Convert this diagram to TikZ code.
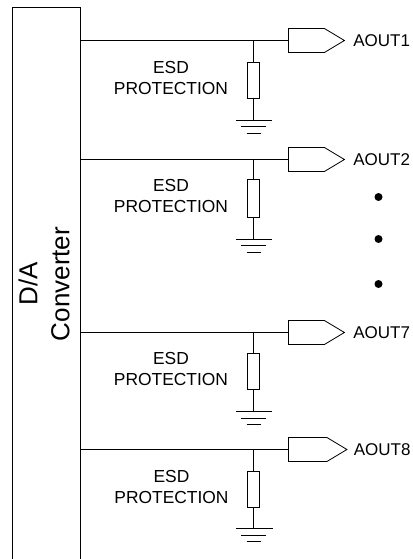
\documentclass[tikz,border=0pt]{standalone}
\usepackage{fontspec}
\setmainfont{Liberation Sans}
\usetikzlibrary{shapes.symbols}
\begin{document}
\begin{tikzpicture}[x=1pt,y=-1pt,line width=0.8pt,
  pin/.style={draw,shape=signal,signal to=east,signal pointer angle=62,minimum width=56pt,minimum height=24pt,inner sep=0pt,anchor=west},
  res/.style={draw,rectangle,minimum width=11.5pt,minimum height=36pt,inner sep=0pt},
  pinlabel/.style={anchor=west,inner sep=0pt,font=\fontsize{17}{21}\selectfont},
  esd/.style={align=center,inner sep=0pt,font=\fontsize{17.4}{21}\selectfont},
  dot/.style={circle,fill,minimum size=8pt,inner sep=0pt}]
\useasboundingbox (0,0) rectangle (412,559);

% converter
\node [draw,rectangle,anchor=north west,minimum width=68.3pt,minimum height=560pt,inner sep=0pt] (box) at (11.7,7) {};
\node [rotate=90,align=center,inner sep=0pt,font=\fontsize{26}{32}\selectfont] (name) at (44,284) {D/A\\Converter};

% channel 1
\node [pin] (out1) at (288,40.5) {};
\node [pinlabel] (lab1) at (353,40.5) {AOUT1};
\node [res] (res1) at (253.5,80) {};
\node [esd] (esd1) at (171,78.5) {ESD\\PROTECTION};
\coordinate (gnd1) at (253.5,120);
\draw (box.east |- out1.west) -- (out1.west);
\draw (res1.north |- out1.west) -- (res1.north);
\draw (res1.south) -- (gnd1);
\draw (gnd1) +(-18,0) -- +(18,0) +(-12.5,6.5) -- +(12.5,6.5) +(-7,13) -- +(7,13);

% channel 2
\node [pin] (out2) at (288,159.5) {};
\node [pinlabel] (lab2) at (353,159.5) {AOUT2};
\node [res,minimum height=38pt] (res2) at (253.5,198) {};
\node [esd] (esd2) at (171,196.5) {ESD\\PROTECTION};
\coordinate (gnd2) at (253.5,239);
\draw (box.east |- out2.west) -- (out2.west);
\draw (res2.north |- out2.west) -- (res2.north);
\draw (res2.south) -- (gnd2);
\draw (gnd2) +(-18,0) -- +(18,0) +(-12.5,6.5) -- +(12.5,6.5) +(-7,13) -- +(7,13);

% dots
\node [dot] (dot1) at (378.5,197) {};
\node [dot] (dot2) at (378.5,239) {};
\node [dot] (dot3) at (378.5,284) {};

% channel 7
\node [pin] (out7) at (288,332.5) {};
\node [pinlabel] (lab7) at (353,332.5) {AOUT7};
\node [res] (res7) at (253.5,371.5) {};
\node [esd] (esd7) at (171,369.5) {ESD\\PROTECTION};
\coordinate (gnd7) at (253.5,411.7);
\draw (box.east |- out7.west) -- (out7.west);
\draw (res7.north |- out7.west) -- (res7.north);
\draw (res7.south) -- (gnd7);
\draw (gnd7) +(-18,0) -- +(18,0) +(-12.5,6.5) -- +(12.5,6.5) +(-7,13) -- +(7,13);

% channel 8
\node [pin,minimum width=58.5pt] (out8) at (288,449.5) {};
\node [pinlabel] (lab8) at (353.5,449.5) {AOUT8};
\node [res] (res8) at (253.5,489) {};
\node [esd] (esd8) at (171.5,487.5) {ESD\\PROTECTION};
\coordinate (gnd8) at (253.5,528.5);
\draw (box.east |- out8.west) -- (out8.west);
\draw (res8.north |- out8.west) -- (res8.north);
\draw (res8.south) -- (gnd8);
\draw (gnd8) +(-18,0) -- +(19,0) +(-12.5,6.5) -- +(12.5,6.5) +(-7,13) -- +(7,13);

\end{tikzpicture}
\end{document}
